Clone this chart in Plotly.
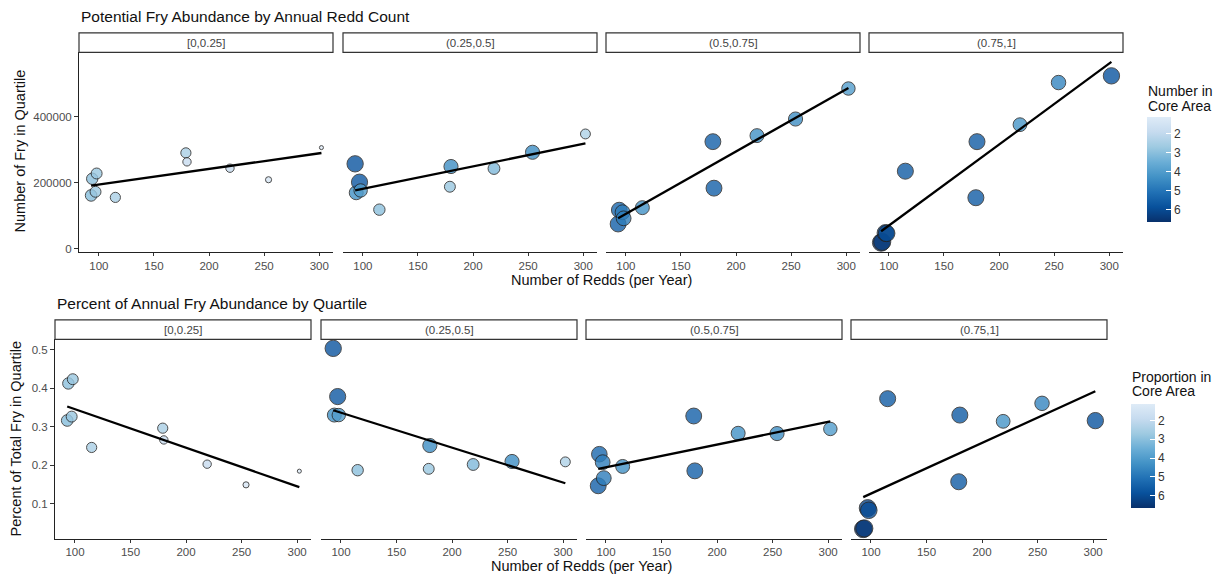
import numpy as np
import plotly.graph_objects as go

W, H = 1225, 576

# ---------------- data ----------------
redds = [93, 94, 97, 98, 115, 179, 180, 219, 254, 302]
quartile_labels = ["[0,0.25]", "(0.25,0.5]", "(0.5,0.75]", "(0.75,1]"]

# Number of fry per quartile (top row)
fry_q1 = [161000, 211500, 172000, 227500, 155000, 290000, 262800, 243500, 208500, 306000]
fry_q2 = [256800, 169000, 201200, 176000, 117800, 187300, 248600, 242600, 291800, 347400]
fry_q3 = [74300, 116600, 110000, 91500, 123900, 324000, 183000, 342300, 392700, 485200]
fry_q4 = [18100, 20000, 47000, 46000, 234500, 154000, 324000, 375500, 503300, 523600]

# Percent of total fry per quartile (bottom row)
pct_q1 = [0.316, 0.412, 0.326, 0.423, 0.246, 0.296, 0.2655, 0.2026, 0.149, 0.1845]
pct_q2 = [0.503, 0.330, 0.378, 0.330, 0.187, 0.1905, 0.251, 0.2018, 0.2096, 0.2086]
pct_q3 = [0.1465, 0.2285, 0.2078, 0.1664, 0.1967, 0.3276, 0.1853, 0.2828, 0.282, 0.294]
pct_q4 = [0.0345, 0.036, 0.0888, 0.083, 0.3725, 0.157, 0.330, 0.3138, 0.3604, 0.3156]

# Number in core area (fill colour and point size)
core_q1 = [3.1, 3.0, 2.8, 2.8, 2.5, 2.5, 1.9, 1.9, 1.4, 1.17]
core_q2 = [5.8, 4.3, 5.7, 4.0, 3.0, 2.8, 4.4, 3.2, 4.4, 2.4]
core_q3 = [5.5, 5.3, 4.8, 4.8, 4.3, 5.5, 5.5, 4.3, 4.4, 4.0]
core_q4 = [6.6, 6.4, 6.2, 6.0, 5.6, 5.6, 5.6, 4.2, 4.6, 5.8]

fry_counts = [fry_q1, fry_q2, fry_q3, fry_q4]
fry_pct = [pct_q1, pct_q2, pct_q3, pct_q4]
core = [core_q1, core_q2, core_q3, core_q4]

x_ticks = [100, 150, 200, 250, 300]
y_ticks_top = [0, 200000, 400000]
y_ticks_bottom = [0.1, 0.2, 0.3, 0.4, 0.5]
legend_ticks = [2, 3, 4, 5, 6]

title_top = "Potential Fry Abundance by Annual Redd Count"
title_bottom = "Percent of Annual Fry Abundance by Quartile"
xlab = "Number of Redds (per Year)"
ylab_top = "Number of Fry in Quartile"
ylab_bottom = "Percent of Total Fry in Quartile"
legend_top = ["Number in", "Core Area"]
legend_bottom = ["Proportion in", "Core Area"]

# ---------------- style ----------------
CORE_MIN, CORE_MAX = 1.14, 6.67
blues = ["#08306b", "#08519c", "#2171b5", "#4292c6", "#6baed6", "#9ecae1", "#c6dbef", "#deebf7"]
colorscale = [[i / (len(blues) - 1), c] for i, c in enumerate(blues)]
FONT = "Liberation Sans, Arial, Helvetica, sans-serif"
X_RANGE = [82.0, 312.5]
Y_RANGE_TOP = [-11000, 595000]
Y_RANGE_BOTTOM = [0.0095, 0.5265]


def px_x(px):
    return px / W


def px_y(py):
    return 1 - py / H


def msize(v):
    t = (v - CORE_MIN) / (CORE_MAX - CORE_MIN)
    return 3 + 14.5 * max(t, 0) ** 0.5


rows = [
    dict(values=fry_counts, xpx=[(79, 333), (343, 597), (606, 860), (869, 1123)],
         ypx=(52.5, 253), strip=(33, 52.5), yticks=y_ticks_top, yrange=Y_RANGE_TOP,
         ytickfmt="d", cbx=1147, cby=(117.7, 222.7)),
    dict(values=fry_pct, xpx=[(55, 311), (321, 577), (586, 842), (851, 1107)],
         ypx=(340.5, 540.5), strip=(321, 340.5), yticks=y_ticks_bottom, yrange=Y_RANGE_BOTTOM,
         ytickfmt=".1f", cbx=1131, cby=(405.7, 510)),
]

fig = go.Figure()
layout = dict(width=W, height=H, margin=dict(l=0, r=0, t=0, b=0), autosize=False,
              paper_bgcolor="white", plot_bgcolor="white", showlegend=False,
              font=dict(family=FONT, color="#222"))
shapes, annotations = [], []

for r, row in enumerate(rows):
    for j in range(4):
        k = r * 4 + j + 1
        xa = "x" if k == 1 else f"x{k}"
        ya = "y" if k == 1 else f"y{k}"
        xkey = "xaxis" if k == 1 else f"xaxis{k}"
        ykey = "yaxis" if k == 1 else f"yaxis{k}"
        x0, x1 = row["xpx"][j]
        yt, yb = row["ypx"]
        layout[xkey] = dict(domain=[px_x(x0), px_x(x1)], anchor=ya, range=X_RANGE,
                            showline=True, linecolor="#222", linewidth=1, showgrid=False,
                            zeroline=False, ticks="outside", ticklen=3, tickcolor="#333",
                            tickvals=x_ticks, tickfont=dict(size=11.5, color="#4d4d4d", family=FONT))
        yax = dict(domain=[px_y(yb), px_y(yt)], anchor=xa, range=row["yrange"],
                   showgrid=False, zeroline=False)
        if j == 0:
            yax.update(showline=True, linecolor="#222", linewidth=1, ticks="outside", ticklen=4,
                       tickcolor="#333", tickvals=row["yticks"], tickformat=row["ytickfmt"],
                       tickfont=dict(size=11.5, color="#4d4d4d", family=FONT))
        else:
            yax.update(showline=False, showticklabels=False, ticks="")
        layout[ykey] = yax

        vals = row["values"][j]
        cvals = core[j]
        marker = dict(size=[msize(v) for v in cvals], color=[-v for v in cvals],
                      colorscale=colorscale, cmin=-CORE_MAX, cmax=-CORE_MIN,
                      opacity=0.8, line=dict(color="#222", width=1))
        if j == 0:
            c0, c1 = row["cby"]
            marker.update(showscale=True, colorbar=dict(
                x=px_x(row["cbx"]), xanchor="left", y=px_y((c0 + c1) / 2), yanchor="middle",
                len=c1 - c0, lenmode="pixels", thickness=24, thicknessmode="pixels",
                xpad=0, ypad=0, outlinewidth=0, tickmode="array",
                tickvals=[-v for v in legend_ticks], ticktext=[str(v) for v in legend_ticks],
                ticks="inside", ticklen=5, tickcolor="white", tickwidth=1,
                tickfont=dict(size=12, color="#333", family=FONT)))
        else:
            marker.update(showscale=False)
        fig.add_trace(go.Scatter(x=redds, y=vals, mode="markers", marker=marker,
                                 xaxis=xa, yaxis=ya, hoverinfo="x+y"))

        # linear fit (geom_smooth, method = lm)
        slope, icpt = np.polyfit(redds, vals, 1)
        xs = [min(redds), max(redds)]
        fig.add_trace(go.Scatter(x=xs, y=[icpt + slope * v for v in xs], mode="lines",
                                 line=dict(color="black", width=2.3), xaxis=xa, yaxis=ya,
                                 hoverinfo="skip"))

        # facet strip
        s0, s1 = row["strip"]
        shapes.append(dict(type="rect", xref="paper", yref="paper",
                           x0=px_x(x0), x1=px_x(x1), y0=px_y(s1), y1=px_y(s0),
                           line=dict(color="#333", width=1.2), fillcolor="white", layer="above"))
        annotations.append(dict(text=quartile_labels[j], xref="paper", yref="paper",
                                x=px_x((x0 + x1) / 2), y=px_y((s0 + s1) / 2), showarrow=False,
                                xanchor="center", yanchor="middle",
                                font=dict(size=11.5, color="#444", family=FONT)))

# titles
annotations += [
    dict(text=title_top, x=px_x(79), y=px_y(17), xanchor="left", yanchor="middle"),
    dict(text=title_bottom, x=px_x(55), y=px_y(305), xanchor="left", yanchor="middle"),
]
for a in annotations[-2:]:
    a.update(xref="paper", yref="paper", showarrow=False, font=dict(size=15.5, color="#111", family=FONT))

axis_titles = [
    dict(text=xlab, x=px_x(601), y=px_y(280.5), textangle=0),
    dict(text=xlab, x=px_x(581), y=px_y(567.5), textangle=0),
    dict(text=ylab_top, x=px_x(20), y=px_y(152), textangle=-90),
    dict(text=ylab_bottom, x=px_x(16), y=px_y(440), textangle=-90),
]
for a in axis_titles:
    a.update(xref="paper", yref="paper", showarrow=False, xanchor="center", yanchor="middle",
             font=dict(size=14.5, color="#111", family=FONT))
annotations += axis_titles

legend_titles = [
    (legend_top[0], 1146, 91.5), (legend_top[1], 1146, 106),
    (legend_bottom[0], 1130, 378), (legend_bottom[1], 1130, 392.5),
]
for txt, lx, ly in legend_titles:
    annotations.append(dict(text=txt, x=px_x(lx), y=px_y(ly), xref="paper", yref="paper",
                            showarrow=False, xanchor="left", yanchor="middle",
                            font=dict(size=14, color="#111", family=FONT)))

layout["shapes"] = shapes
layout["annotations"] = annotations
fig.update_layout(**layout)
fig.write_html("out.html")
